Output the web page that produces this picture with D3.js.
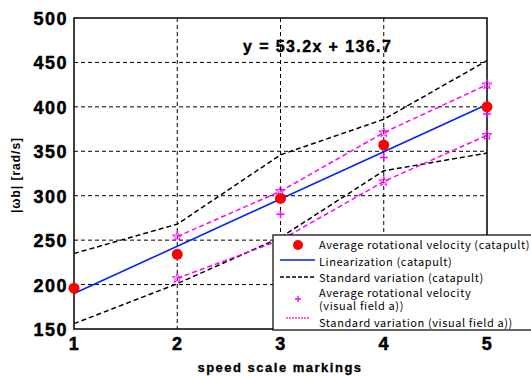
<!DOCTYPE html>
<html>
<head>
<meta charset="utf-8">
<style>
  body { margin: 0; background: #fff; }
  .tick-label { font-family: "Liberation Sans", Arial, sans-serif; font-weight: bold; font-size: 18px; letter-spacing: 1.5px; stroke: #000; stroke-width: 0.5px; }
  .legend-text { font-family: "Noto Sans CJK JP", sans-serif; font-size: 11px; letter-spacing: 0.6px; }
  .grid line { stroke: #000; stroke-width: 1; stroke-dasharray: 4,3; }
</style>
</head>
<body>
<div id="chart"></div>
<script src="https://d3js.org/d3.v7.min.js"></script>
<script>
  // speed scale markings
  var markings = [1, 2, 3, 4, 5];
  // catapult
  var catapultAvg = [196, 234, 297, 357, 400];
  var catapultUpper = [235, 268, 346, 386, 452];
  var catapultLower = [156, 201, 253, 328, 348];
  var slope = 53.2, intercept = 136.7;
  // visual field a) (starts at marking 2)
  var visualX = [2, 3, 4, 5];
  var visualAvg = [231, 279, 343, 392];
  var visualUpper = [254, 305, 371, 425];
  var visualLower = [207, 250, 316, 368];
  var yTicks = [150, 200, 250, 300, 350, 400, 450, 500];

  var width = 531, height = 376,
      plotLeft = 74, plotRight = 487, plotTop = 18, plotBottom = 329;

  var svg = d3.select("#chart").append("svg")
      .attr("width", width).attr("height", height);

  var x = d3.scaleLinear().domain([1, 5]).range([plotLeft, plotRight]);
  var y = d3.scaleLinear().domain([150, 500]).range([plotBottom, plotTop]);

  // grid
  var grid = svg.append("g").attr("class", "grid");
  grid.selectAll(".gy").data(yTicks.slice(1, -1)).enter().append("line")
      .attr("x1", plotLeft).attr("x2", plotRight)
      .attr("y1", function (d) { return y(d); }).attr("y2", function (d) { return y(d); });
  grid.selectAll(".gx").data(markings.slice(1, -1)).enter().append("line")
      .attr("y1", plotTop).attr("y2", plotBottom)
      .attr("x1", function (d) { return x(d); }).attr("x2", function (d) { return x(d); });

  // frame
  svg.append("rect").attr("x", plotLeft).attr("y", plotTop)
      .attr("width", plotRight - plotLeft).attr("height", plotBottom - plotTop)
      .attr("fill", "none").attr("stroke", "#000").attr("stroke-width", 1.5);

  // axes
  var yAxis = svg.append("g").attr("transform", "translate(" + plotLeft + ",0)")
      .call(d3.axisLeft(y).tickValues(yTicks).tickSize(0).tickPadding(6));
  var xAxis = svg.append("g").attr("transform", "translate(0," + plotBottom + ")")
      .call(d3.axisBottom(x).tickValues(markings).tickFormat(d3.format("d")).tickSize(0).tickPadding(5));
  [yAxis, xAxis].forEach(function (a) {
    a.select(".domain").remove();
    a.selectAll("text").attr("class", "tick-label").attr("fill", "#000");
  });
  xAxis.selectAll("text").attr("dy", "0.9em");
  yAxis.selectAll("text").attr("dy", "0.36em");

  var line = d3.line().x(function (d) { return x(d[0]); }).y(function (d) { return y(d[1]); });
  function pairs(xs, ys) { return xs.map(function (v, i) { return [v, ys[i]]; }); }

  // catapult standard variation
  [catapultUpper, catapultLower].forEach(function (s) {
    svg.append("path").attr("d", line(pairs(markings, s)))
        .attr("fill", "none").attr("stroke", "#000").attr("stroke-width", 1.5)
        .attr("stroke-dasharray", "5,3");
  });

  // visual field a) standard variation with star markers
  var star = d3.symbol().type(d3.symbolStar).size(30);
  [visualUpper, visualLower].forEach(function (s) {
    svg.append("path").attr("d", line(pairs(visualX, s)))
        .attr("fill", "none").attr("stroke", "#ff00ff").attr("stroke-width", 1.5)
        .attr("stroke-dasharray", "5,3");
    svg.selectAll(null).data(pairs(visualX, s)).enter().append("path")
        .attr("d", star)
        .attr("transform", function (d) { return "translate(" + x(d[0]) + "," + y(d[1]) + ")"; })
        .attr("fill", "none").attr("stroke", "#ff00ff").attr("stroke-width", 1);
  });

  // linearization
  svg.append("line")
      .attr("x1", x(1)).attr("y1", y(slope * 1 + intercept))
      .attr("x2", x(5)).attr("y2", y(slope * 5 + intercept))
      .attr("stroke", "#0022ff").attr("stroke-width", 1.6);

  // visual field a) average (plus)
  svg.selectAll(".plus").data(pairs(visualX, visualAvg)).enter().append("path")
      .attr("d", "M-4,0H4M0,-4V4")
      .attr("transform", function (d) { return "translate(" + x(d[0]) + "," + y(d[1]) + ")"; })
      .attr("stroke", "#ff00ff").attr("stroke-width", 1.5);

  // catapult average
  svg.selectAll(".dot").data(pairs(markings, catapultAvg)).enter().append("circle")
      .attr("cx", function (d) { return x(d[0]); })
      .attr("cy", function (d) { return y(d[1]); })
      .attr("r", 5.5).attr("fill", "#ff0000");

  // equation
  svg.append("text").attr("x", 243).attr("y", 52)
      .attr("font-family", "Liberation Sans, Arial, sans-serif")
      .attr("font-weight", "bold").attr("font-size", 16).attr("letter-spacing", "1.4px")
      .attr("stroke", "#000").attr("stroke-width", 0.4)
      .text("y = " + slope + "x + " + intercept);

  // axis titles
  svg.append("text").attr("x", 280).attr("y", 372).attr("text-anchor", "middle")
      .attr("font-family", "Liberation Sans, Arial, sans-serif")
      .attr("font-weight", "bold").attr("font-size", 13).attr("letter-spacing", "1.5px")
      .attr("stroke", "#000").attr("stroke-width", 0.3)
      .text("speed scale markings");
  svg.append("text").attr("transform", "translate(20,175) rotate(-90)").attr("text-anchor", "middle")
      .attr("font-family", "Liberation Sans, Arial, sans-serif")
      .attr("font-weight", "bold").attr("font-size", 12).attr("letter-spacing", "1px")
      .text("|ωb| [rad/s]");

  // legend
  var lg = svg.append("g");
  lg.append("rect").attr("x", 273).attr("y", 235).attr("width", 270).attr("height", 95)
      .attr("fill", "#fff").attr("stroke", "#000").attr("stroke-width", 1.2);
  var mx = 298, tx = 319;
  lg.append("circle").attr("cx", mx).attr("cy", 245).attr("r", 5).attr("fill", "#ff0000");
  lg.append("line").attr("x1", 280).attr("x2", 315).attr("y1", 260).attr("y2", 260)
      .attr("stroke", "#0022ff").attr("stroke-width", 1.6);
  lg.append("line").attr("x1", 280).attr("x2", 315).attr("y1", 277).attr("y2", 277)
      .attr("stroke", "#000").attr("stroke-width", 1.5).attr("stroke-dasharray", "4,2");
  lg.append("path").attr("d", "M-3,0H3M0,-3V3").attr("transform", "translate(" + mx + ",299)")
      .attr("stroke", "#ff00ff").attr("stroke-width", 1.3);
  lg.append("line").attr("x1", 286).attr("x2", 310).attr("y1", 318).attr("y2", 318)
      .attr("stroke", "#ff66cc").attr("stroke-width", 2).attr("stroke-dasharray", "2,1");
  var legendRows = [
    [["Average rotational velocity (catapult)"], 249],
    [["Linearization (catapult)"], 266],
    [["Standard variation (catapult)"], 282],
    [["Average rotational velocity", "(visual field a))"], 297],
    [["Standard variation (visual field a))"], 327]
  ];
  var lt = lg.selectAll(".lt").data(legendRows).enter().append("text")
      .attr("class", "legend-text")
      .attr("x", tx).attr("y", function (d) { return d[1]; });
  lt.selectAll("tspan").data(function (d) { return d[0]; }).enter().append("tspan")
      .attr("x", tx).attr("dy", function (d, i) { return i ? 13 : 0; })
      .text(function (d) { return d; });
</script>
</body>
</html>
